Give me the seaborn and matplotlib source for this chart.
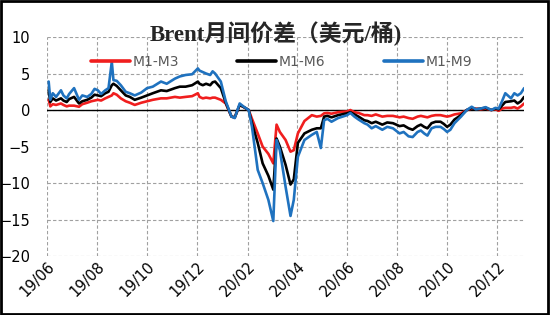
import matplotlib
matplotlib.use("Agg")
import matplotlib.pyplot as plt
import matplotlib.dates as mdates
import seaborn as sns
import pandas as pd
from matplotlib.patches import Rectangle

dates = [
    "2019-06-03", "2019-06-05", "2019-06-08", "2019-06-12", "2019-06-18", "2019-06-21",
    "2019-06-25", "2019-06-28", "2019-07-04", "2019-07-10", "2019-07-14", "2019-07-20",
    "2019-07-25", "2019-07-29", "2019-08-02", "2019-08-06", "2019-08-11", "2019-08-15",
    "2019-08-19", "2019-08-21", "2019-08-25", "2019-08-30", "2019-09-05", "2019-09-10",
    "2019-09-16", "2019-09-24", "2019-10-01", "2019-10-08", "2019-10-18", "2019-10-25",
    "2019-11-04", "2019-11-10", "2019-11-17", "2019-11-25", "2019-12-02", "2019-12-04",
    "2019-12-08", "2019-12-12", "2019-12-17", "2019-12-20", "2019-12-23", "2019-12-30",
    "2020-01-05", "2020-01-12", "2020-01-16", "2020-01-22", "2020-01-27", "2020-02-02",
    "2020-02-06", "2020-02-13", "2020-02-19", "2020-02-26", "2020-03-03", "2020-03-07",
    "2020-03-11", "2020-03-18", "2020-03-24", "2020-03-28", "2020-04-02", "2020-04-10",
    "2020-04-19", "2020-04-25", "2020-04-30", "2020-05-04", "2020-05-08", "2020-05-13",
    "2020-05-21", "2020-06-01", "2020-06-05", "2020-06-10", "2020-06-15", "2020-06-22",
    "2020-06-26", "2020-07-01", "2020-07-06", "2020-07-14", "2020-07-20", "2020-07-27",
    "2020-08-04", "2020-08-09", "2020-08-15", "2020-08-20", "2020-08-26", "2020-08-30",
    "2020-09-03", "2020-09-07", "2020-09-12", "2020-09-17", "2020-09-23", "2020-09-27",
    "2020-10-01", "2020-10-05", "2020-10-10", "2020-10-18", "2020-10-25", "2020-10-31",
    "2020-11-05", "2020-11-11", "2020-11-17", "2020-11-24", "2020-11-29", "2020-12-03",
    "2020-12-07", "2020-12-11", "2020-12-18", "2020-12-22", "2020-12-26", "2020-12-30",
    "2021-01-03",
]

m1_m9 = [
    3.9, 1.4, 2.3, 1.8, 2.7, 2.0,
    1.6, 2.2, 3.0, 1.4, 2.0, 1.8,
    2.2, 2.9, 2.7, 2.2, 2.7, 3.0,
    6.6, 4.1, 4.0, 3.4, 2.5, 2.3,
    2.0, 2.4, 3.0, 3.2, 3.9, 3.6,
    4.3, 4.6, 4.8, 4.9, 5.7, 5.4,
    5.2, 5.0, 4.8, 5.3, 5.0, 3.9,
    1.2, -0.9, -1.1, 0.9, 0.45, 0.0,
    -2.3, -8.2, -10.0, -12.3, -15.2, -4.1,
    -5.5, -10.5, -14.5, -12.3, -6.4, -4.1,
    -3.4, -3.0, -5.2, -1.4, -1.2, -1.6,
    -1.1, -0.7, -0.4, -0.9, -1.3, -1.8,
    -2.0, -2.5, -2.2, -2.7, -2.3, -2.5,
    -3.2, -3.0, -3.6, -3.7, -3.0, -2.8,
    -3.2, -3.5, -2.5, -2.3, -2.3, -2.6,
    -3.0, -2.7, -1.8, -0.9, 0.0, 0.45,
    0.1, 0.2, 0.4, 0.0, 0.3, 0.2,
    1.2, 2.3, 1.6, 2.3, 2.0, 2.3,
    3.0,
]

m1_m6 = [
    2.7, 1.1, 1.6, 1.3, 1.6, 1.3,
    1.1, 1.5, 1.8, 0.9, 1.2, 1.4,
    1.7, 2.1, 2.0, 1.9, 2.3, 2.5,
    3.4, 3.6, 3.3, 2.7, 2.0, 1.8,
    1.4, 1.7, 2.0, 2.3, 2.7, 2.6,
    3.0, 3.2, 3.2, 3.4, 3.9, 3.6,
    3.4, 3.6, 3.4, 3.8, 3.9, 3.0,
    1.0, -0.9, -1.0, 0.7, 0.4, 0.0,
    -1.8, -4.5, -7.3, -9.0, -10.9, -3.9,
    -5.0, -7.5, -10.2, -9.5, -4.5, -3.2,
    -2.7, -2.5, -2.5, -0.9, -0.8, -1.0,
    -0.7, -0.45, -0.3, -0.6, -0.9, -1.4,
    -1.5, -1.8, -1.6, -2.0, -1.7, -1.8,
    -2.2, -2.1, -2.5, -2.7, -2.2, -2.0,
    -2.3, -2.5, -1.8, -1.6, -1.6, -1.9,
    -2.3, -2.0, -1.3, -0.7, 0.0, 0.3,
    0.1, 0.2, 0.3, 0.0, 0.2, 0.1,
    0.6, 1.1, 1.2, 1.3, 0.9, 1.2,
    1.8,
]

m1_m3 = [
    1.4, 0.5, 0.8, 0.7, 0.9, 0.7,
    0.5, 0.6, 0.6, 0.45, 0.8, 1.0,
    1.2, 1.3, 1.4, 1.3, 1.6, 1.8,
    2.0, 2.3, 2.1, 1.6, 1.2, 1.0,
    0.7, 1.0, 1.2, 1.4, 1.6, 1.6,
    1.8, 1.7, 1.8, 1.9, 2.3, 1.8,
    1.6, 1.7, 1.6, 1.7, 1.7, 1.4,
    0.9, -0.9, -1.0, 0.7, 0.4, 0.0,
    -1.2, -3.2, -5.0, -6.0, -7.3, -2.0,
    -3.0, -4.1, -5.7, -5.5, -3.2, -1.5,
    -0.7, -0.9, -0.8, -0.45, -0.4, -0.5,
    -0.3, -0.2, 0.0, -0.3, -0.4, -0.7,
    -0.7, -0.8, -0.6, -0.9, -0.8, -0.8,
    -1.0, -0.9, -1.1, -1.2, -0.9, -0.8,
    -0.9, -1.0, -0.8, -0.7, -0.7, -0.8,
    -0.9, -0.8, -0.6, -0.45, 0.0, 0.2,
    0.2, 0.1, 0.2, 0.0, 0.1, -0.1,
    0.2, 0.3, 0.3, 0.4, 0.2, 0.5,
    0.9,
]

series_names = ["M1-M3", "M1-M6", "M1-M9"]
series_colors = ["#F01E1E", "#000000", "#1F72BF"]
tick_dates = ["2019-06-01", "2019-08-01", "2019-10-01", "2019-12-01", "2020-02-01",
              "2020-04-01", "2020-06-01", "2020-08-01", "2020-10-01", "2020-12-01"]
y_ticks = [10, 5, 0, -5, -10, -15, -20]
title = "Brent月间价差（美元/桶)"

dt = pd.to_datetime(dates)
df = pd.concat([
    pd.DataFrame({"date": dt, "value": m1_m3, "series": series_names[0]}),
    pd.DataFrame({"date": dt, "value": m1_m6, "series": series_names[1]}),
    pd.DataFrame({"date": dt, "value": m1_m9, "series": series_names[2]}),
])

sns.set_theme(style="white")
plt.rcParams["font.family"] = ["DejaVu Sans"]
plt.rcParams["axes.unicode_minus"] = True

fig = plt.figure(figsize=(5.5, 3.15), dpi=100)
ax = fig.add_axes([0.0855, 0.187, 0.8675, 0.6955])

sns.lineplot(data=df, x="date", y="value", hue="series", hue_order=series_names,
             palette=series_colors, linewidth=1.9, ax=ax, legend=True)

ax.set_ylim(-20, 10)
ax.set_yticks(y_ticks)
ax.set_xlim(pd.Timestamp("2019-06-01"), dt[-1])
ax.set_xticks(pd.to_datetime(tick_dates))
ax.xaxis.set_major_formatter(mdates.DateFormatter("%y/%m"))
ax.grid(True, linestyle=(0, (3, 2)), color="#A0A0A0", linewidth=0.8)
ax.axhline(0, color="black", linewidth=1.0, zorder=1.5)
for s in ax.spines.values():
    s.set_visible(False)
ax.set_xlabel("")
ax.set_ylabel("")
ax.tick_params(axis="y", labelsize=10.5, pad=12, length=0, colors="black")
ax.tick_params(axis="x", labelsize=10.5, pad=2, length=0, colors="black")
for lab in ax.get_xticklabels():
    lab.set_rotation(45)
    lab.set_ha("right")
    lab.set_rotation_mode("anchor")

handles, labels = ax.get_legend_handles_labels()
ax.legend(handles, labels, loc="center", bbox_to_anchor=(0.512, 0.803),
          bbox_transform=fig.transFigure, ncol=3, frameon=False, fontsize=10,
          handlelength=2.8, handletextpad=0.2, columnspacing=4.2, labelcolor="#595959")
for line in ax.get_legend().get_lines():
    line.set_linewidth(2.6)

fig.text(0.502, 0.893, title, ha="center", va="center", fontsize=16.5, fontweight="bold",
         family=["Liberation Serif", "Noto Sans CJK SC"])

fig.patches.append(Rectangle((0.002, 0.003), 0.995, 0.994, transform=fig.transFigure,
                             fill=False, edgecolor="black", linewidth=2.0))

fig.savefig("out.png", dpi=100)
